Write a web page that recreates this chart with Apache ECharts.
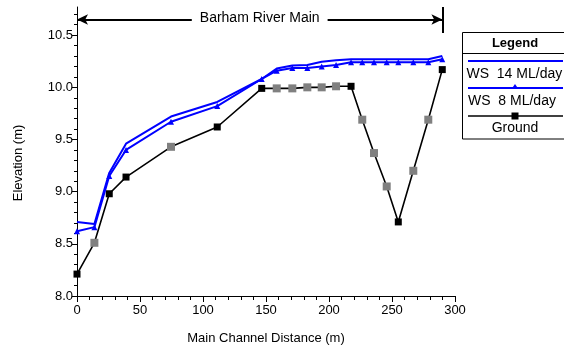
<!DOCTYPE html>
<html>
<head>
<meta charset="utf-8">
<script src="https://cdn.jsdelivr.net/npm/echarts@6/dist/echarts.min.js"></script>
<style>
html,body{margin:0;padding:0;background:#fff;}
#chart{width:564px;height:350px;}
</style>
</head>
<body>
<div id="chart"></div>
<script>
// ---- data ----
const dist = [0, 13.8, 25.6, 38.9, 74.6, 111.3, 146.6, 158.5, 170.9, 182.8, 194.2, 205.6, 217.5, 226.4, 235.7, 245.8, 255.0, 266.9, 278.8, 289.9];
const ground = [8.21, 8.51, 8.98, 9.14, 9.43, 9.62, 9.99, 9.99, 9.99, 10.00, 10.00, 10.01, 10.01, 9.69, 9.37, 9.05, 8.71, 9.20, 9.69, 10.17];
const groundKind = ['B','G','B','B','G','B','B','G','G','G','G','G','B','G','G','G','B','G','G','B'];
const ws14 = [8.71, 8.69, 9.18, 9.46, 9.72, 9.86, 10.08, 10.18, 10.21, 10.215, 10.245, 10.26, 10.27, 10.27, 10.27, 10.27, 10.27, 10.27, 10.27, 10.30];
const ws8 = [8.62, 8.66, 9.15, 9.40, 9.67, 9.82, 10.08, 10.16, 10.185, 10.185, 10.20, 10.215, 10.24, 10.24, 10.24, 10.24, 10.24, 10.24, 10.24, 10.27];
const yTicks = [8.0, 8.5, 9.0, 9.5, 10.0, 10.5];
const xTicks = [0, 50, 100, 150, 200, 250, 300];
const reachName = 'Barham River Main';
const reachExtent = [0, 290];
const reachLevel = 10.65;
const seriesNames = ['WS  14 ML/day', 'WS  8 ML/day', 'Ground'];

const FONT = 'Liberation Sans, Arial, sans-serif';
const chart = echarts.init(document.getElementById('chart'), null, {renderer: 'canvas'});

const groundData = dist.map((d, i) => ({
  value: [d, ground[i]],
  symbolSize: groundKind[i] === 'B' ? 7 : 8,
  itemStyle: {color: groundKind[i] === 'B' ? '#000000' : '#808080'}
}));

const option = {
  animation: false,
  backgroundColor: '#ffffff',
  grid: {left: 77, right: 109, top: 7, bottom: 52, containLabel: false},
  xAxis: {
    type: 'value', min: 0, max: 300, interval: 50,
    name: 'Main Channel Distance (m)', nameLocation: 'middle', nameGap: 36,
    nameTextStyle: {fontFamily: FONT, fontSize: 13, color: '#000'},
    axisLine: {show: true, onZero: false, lineStyle: {color: '#000', width: 1}},
    axisTick: {show: true, length: 6, lineStyle: {color: '#000', width: 1}, customValues: xTicks},
    minorTick: {show: true, splitNumber: 5, length: 4, lineStyle: {color: '#000', width: 1}},
    axisLabel: {fontFamily: FONT, fontSize: 13, color: '#000', margin: 8, customValues: xTicks},
    splitLine: {show: false}
  },
  yAxis: {
    type: 'value', min: 8, max: 10.77, interval: 0.5,
    name: 'Elevation (m)', nameLocation: 'middle', nameGap: 52,
    nameTextStyle: {fontFamily: FONT, fontSize: 13, color: '#000', padding: [0, 23, 0, 0]},
    axisLine: {show: true, onZero: false, lineStyle: {color: '#000', width: 1}},
    axisTick: {show: true, length: 5, lineStyle: {color: '#000', width: 1}, customValues: yTicks},
    minorTick: {show: true, splitNumber: 5, length: 3, lineStyle: {color: '#000', width: 1}},
    axisLabel: {fontFamily: FONT, fontSize: 13, color: '#000', margin: 4, customValues: yTicks,
      formatter: v => Number(v).toFixed(1)},
    splitLine: {show: false}
  },
  series: [
    {
      name: seriesNames[0], type: 'line', data: dist.map((d, i) => [d, ws14[i]]),
      showSymbol: false, symbol: 'none',
      lineStyle: {color: '#0000ff', width: 2}, itemStyle: {color: '#0000ff'}, z: 3
    },
    {
      name: seriesNames[1], type: 'line', data: dist.map((d, i) => [d, ws8[i]]),
      symbol: 'triangle', symbolSize: 6, showSymbol: true,
      lineStyle: {color: '#0000ff', width: 2}, itemStyle: {color: '#0000ff'}, z: 4
    },
    {
      name: seriesNames[2], type: 'line', data: groundData,
      symbol: 'rect', showSymbol: true,
      lineStyle: {color: '#000000', width: 1.6}, z: 2,
      markLine: {
        silent: true, animation: false,
        lineStyle: {color: '#000', width: 2, type: 'solid'},
        symbol: ['none', 'none'],
        label: {show: false},
        data: [
          [
            {coord: [reachExtent[0], reachLevel], symbol: 'arrow', symbolSize: [8, 11]},
            {coord: [reachExtent[1], reachLevel], symbol: 'arrow', symbolSize: [8, 11],
             label: {show: true, position: 'middle', formatter: reachName, fontFamily: FONT, fontSize: 14,
                     color: '#000', backgroundColor: '#fff', padding: [2, 8], distance: -8}}
          ],
          [
            {coord: [reachExtent[1], 10.52], symbol: 'none', lineStyle: {width: 2}},
            {coord: [reachExtent[1], 10.77], symbol: 'none'}
          ]
        ]
      }
    }
  ],
  graphic: [
    {type: 'rect', shape: {x: 462.5, y: 32.5, width: 120, height: 106.5}, style: {fill: '#fff', stroke: '#000', lineWidth: 1}, z: 10},
    {type: 'line', shape: {x1: 462.5, y1: 53.5, x2: 564, y2: 53.5}, style: {stroke: '#000', lineWidth: 1}, z: 11},
    {type: 'text', x: 515, y: 43.5, style: {text: 'Legend', font: 'bold 13px ' + FONT, fill: '#000', align: 'center', verticalAlign: 'middle'}, z: 11},
    {type: 'line', shape: {x1: 468, y1: 61, x2: 563, y2: 61}, style: {stroke: '#0000ff', lineWidth: 2}, z: 11},
    {type: 'text', x: 466.5, y: 74.5, style: {text: seriesNames[0], font: '14px ' + FONT, fill: '#000', align: 'left', verticalAlign: 'middle'}, z: 11},
    {type: 'line', shape: {x1: 468, y1: 88, x2: 563, y2: 88}, style: {stroke: '#0000ff', lineWidth: 2}, z: 11},
    {type: 'polygon', shape: {points: [[515, 84], [518.5, 89], [511.5, 89]]}, style: {fill: '#0000ff'}, z: 12},
    {type: 'text', x: 468, y: 101, style: {text: seriesNames[1], font: '14px ' + FONT, fill: '#000', align: 'left', verticalAlign: 'middle'}, z: 11},
    {type: 'line', shape: {x1: 468, y1: 116, x2: 563, y2: 116}, style: {stroke: '#000', lineWidth: 1.5}, z: 11},
    {type: 'rect', shape: {x: 511.5, y: 112.5, width: 7, height: 7}, style: {fill: '#000'}, z: 12},
    {type: 'text', x: 515, y: 128.5, style: {text: seriesNames[2], font: '14px ' + FONT, fill: '#000', align: 'center', verticalAlign: 'middle'}, z: 11}
  ]
};
chart.setOption(option);
</script>
</body>
</html>
